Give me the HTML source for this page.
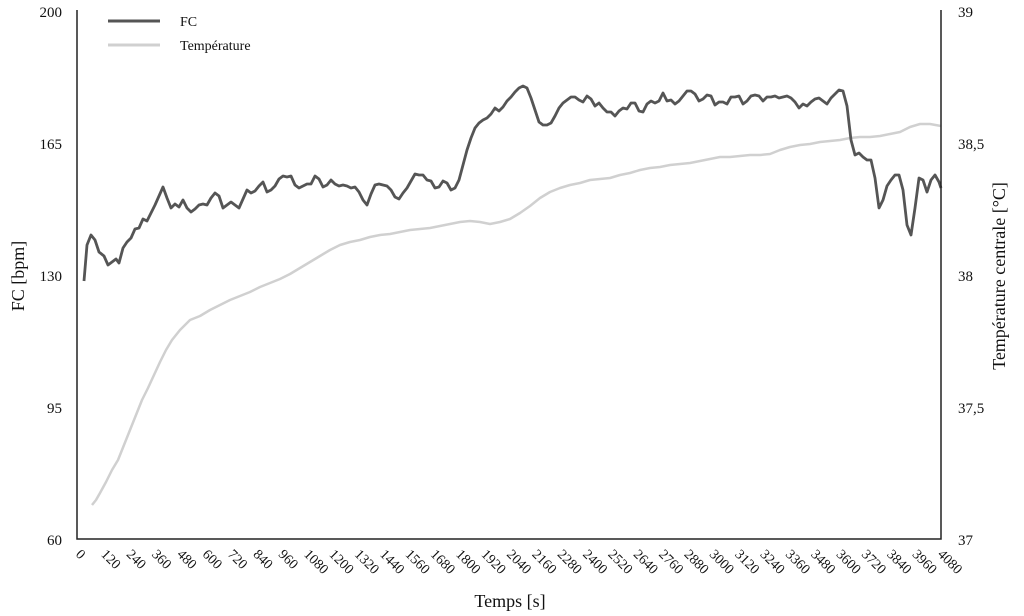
<!DOCTYPE html>
<html><head><meta charset="utf-8"><style>body{margin:0;background:#fff}svg{display:block}text{font-family:"Liberation Serif",serif;fill:#111}</style></head><body>
<svg width="1024" height="616" viewBox="0 0 1024 616">
<polyline fill="none" stroke="#d0d0d0" stroke-width="2.5" stroke-linejoin="round" points="92,505 96,500 100,493 106,482 112,470 118,460 124,445 130,430 136,415 142,400 148,388 154,375 160,362 166,350 172,340 180,330 190,320 200,316 210,310 220,305 230,300 240,296 250,292 260,287 270,283 280,279 290,274 300,268 310,262 320,256 330,250 340,245 350,242 360,240 370,237 380,235 390,234 400,232 410,230 420,229 430,228 440,226 450,224 460,222 470,221 480,222 490,224 500,222 510,219 520,213 530,206 540,198 550,192 560,188 570,185 580,183 590,180 600,179 610,178 620,175 630,173 640,170 650,168 660,167 670,165 680,164 690,163 700,161 710,159 720,157 730,157 740,156 750,155 760,155 770,154 780,150 790,147 800,145 810,144 820,142 830,141 840,140 850,138 860,137 870,137 880,136 890,134 900,132 910,127 920,124 930,124 941,126"/>
<polyline fill="none" stroke="#555" stroke-width="2.8" stroke-linejoin="round" points="84,281 87,245 91,235 95,240 99,252 104,256 108,265 112,262 116,259 119,263 123,248 127,242 131,238 135,229 139,228 143,219 147,221 151,213 155,205 159,196 163,187 167,198 171,208 175,204 179,207 183,200 187,208 191,212 195,209 199,205 203,204 207,205 211,198 215,193 219,196 223,208 227,205 231,202 235,205 239,208 243,199 247,190 251,193 255,191 259,186 263,182 267,192 271,190 275,186 279,179 283,176 287,177 291,176 295,185 299,188 303,186 307,184 311,184 315,176 319,179 323,187 327,185 331,180 335,184 339,186 343,185 347,186 351,188 355,187 359,192 363,200 367,205 371,194 375,185 379,184 383,185 387,186 391,190 395,197 399,199 403,193 407,188 411,181 415,174 419,175 423,175 427,180 431,181 435,188 439,187 443,181 447,183 451,190 455,188 459,180 463,165 467,150 471,138 475,128 479,123 483,120 487,118 491,114 495,108 499,111 503,107 507,101 511,97 515,92 519,88 523,86 527,88 531,98 535,110 539,122 543,125 547,125 551,123 555,116 559,108 563,103 567,100 571,97 575,97 579,100 583,102 587,96 591,99 595,106 599,103 603,108 607,112 611,112 615,116 619,111 623,108 627,109 631,103 635,103 639,111 643,112 647,104 651,101 655,103 659,101 663,93 667,101 671,100 675,104 679,101 683,96 687,91 691,91 695,94 699,101 703,99 707,95 711,96 715,105 719,102 723,102 727,104 731,97 735,97 739,96 743,104 747,101 751,96 755,95 759,96 763,101 767,97 771,97 775,96 779,98 783,97 787,96 791,98 795,102 799,108 803,104 807,106 811,102 815,99 819,98 823,101 827,104 831,98 835,94 839,90 843,91 847,106 851,140 855,155 859,153 863,157 867,160 871,160 875,178 879,208 883,200 887,186 891,180 895,175 899,175 903,190 907,225 911,235 915,208 919,178 923,180 927,192 931,180 935,175 939,182 941,188"/>
<path d="M77,10V539H941V10" fill="none" stroke="#222" stroke-width="1.5"/>
<g font-size="15" text-anchor="end"><text x="62" y="17">200</text><text x="62" y="149">165</text><text x="62" y="281">130</text><text x="62" y="413">95</text><text x="62" y="545">60</text></g>
<g font-size="15"><text x="958" y="17">39</text><text x="958" y="149">38,5</text><text x="958" y="281">38</text><text x="958" y="413">37,5</text><text x="958" y="545">37</text></g>
<g font-size="14" id="xt"></g>
<text x="510" y="607" font-size="18" text-anchor="middle">Temps [s]</text>
<text transform="translate(24,276) rotate(-90)" font-size="18" text-anchor="middle">FC [bpm]</text>
<text transform="translate(1005,276) rotate(-90)" font-size="18" text-anchor="middle">Température centrale [°C]</text>
<line x1="108" y1="21" x2="160" y2="21" stroke="#555" stroke-width="3"/>
<line x1="108" y1="45" x2="160" y2="45" stroke="#d0d0d0" stroke-width="3"/>
<text x="180" y="26" font-size="14">FC</text>
<text x="180" y="50" font-size="14">Température</text>
</svg>
<script>
var g=document.getElementById('xt'),s='';
for(var i=0;i<=34;i++){var x=75+i*862/34;s+='<text transform="translate('+x.toFixed(1)+',555) rotate(45)">'+(i*120)+'</text>';}
g.innerHTML=s;
</script>
</body></html>
